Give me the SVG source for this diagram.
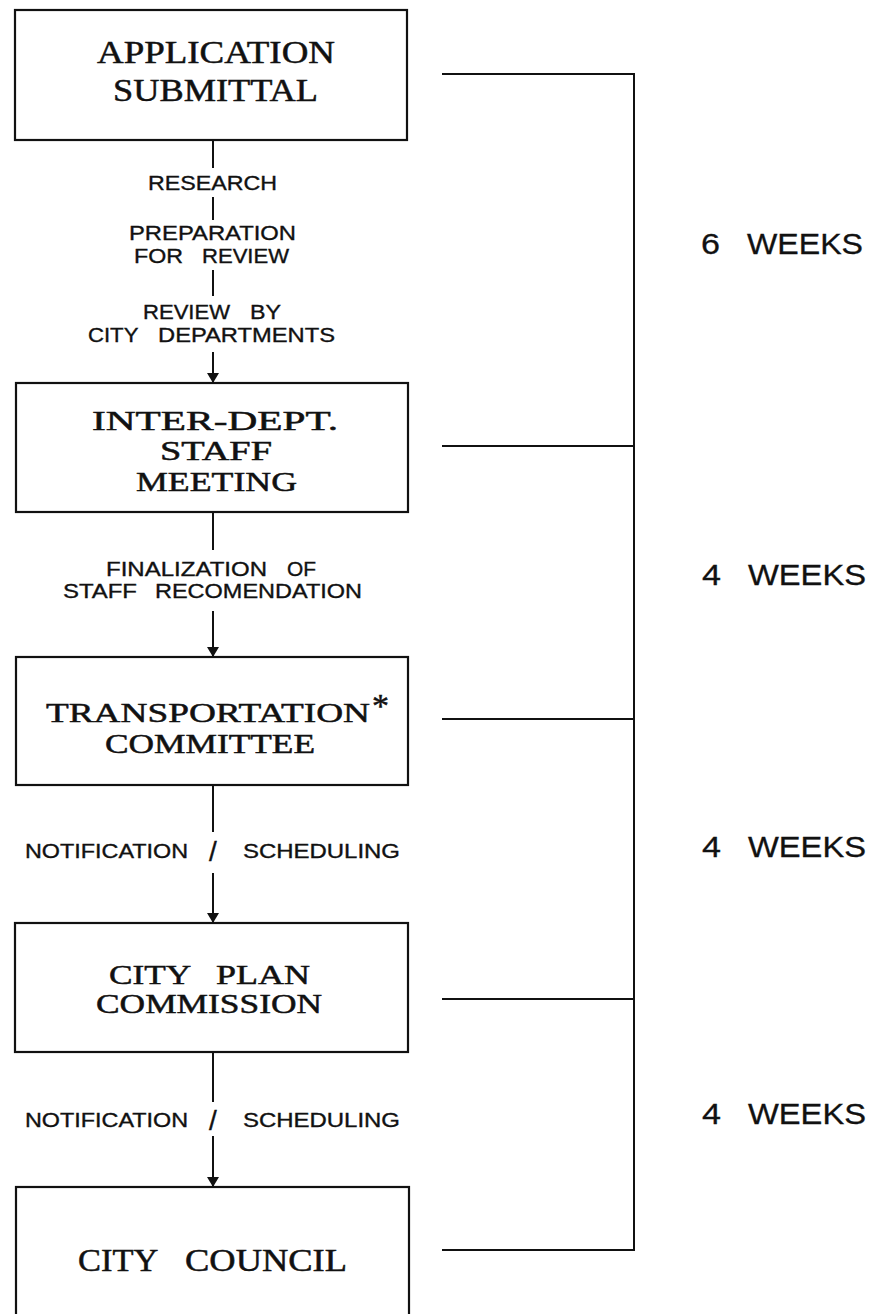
<svg xmlns="http://www.w3.org/2000/svg" width="876" height="1314" viewBox="0 0 876 1314">
<style>
.box{fill:#fff;stroke:#111;stroke-width:2.2}
.t{font-family:"Liberation Serif","Times New Roman",serif;font-size:31px;fill:#111;stroke:#111;stroke-width:0.5}
.t2{font-size:28px}
.s{font-family:"Liberation Sans",Arial,sans-serif;font-size:20px;fill:#111;stroke:#111;stroke-width:0.35}
.w{font-family:"Liberation Sans",Arial,sans-serif;font-size:29px;fill:#111;stroke:#111;stroke-width:0.3}
.ln{stroke:#111;stroke-width:2;fill:none}
</style>
<defs>
<marker id="ah" viewBox="0 0 10 12" refX="10" refY="6" markerWidth="10" markerHeight="12" markerUnits="userSpaceOnUse" orient="auto">
<path d="M0,0 L10,6 L0,12 z" fill="#111"/>
</marker>
</defs>
<rect width="876" height="1314" fill="#fff"/>

<g id="node-application">
<rect class="box" x="15" y="10" width="392" height="130"/>
<text class="t" x="97" y="63" textLength="238" lengthAdjust="spacingAndGlyphs">APPLICATION</text>
<text class="t" x="113" y="101" textLength="205" lengthAdjust="spacingAndGlyphs">SUBMITTAL</text>
</g>

<g id="node-interdept">
<rect class="box" x="16" y="383" width="392" height="129"/>
<text class="t t2" x="92" y="430" textLength="246" lengthAdjust="spacingAndGlyphs">INTER-DEPT.</text>
<text class="t t2" x="160" y="460" textLength="112" lengthAdjust="spacingAndGlyphs">STAFF</text>
<text class="t t2" x="136" y="491" textLength="161" lengthAdjust="spacingAndGlyphs">MEETING</text>
</g>

<g id="node-transportation">
<rect class="box" x="16" y="657" width="392" height="128"/>
<text class="t t2" x="46" y="722" textLength="324" lengthAdjust="spacingAndGlyphs">TRANSPORTATION</text>
<text class="t" x="372" y="717" style="font-size:34px">*</text>
<text class="t t2" x="105" y="753" textLength="210" lengthAdjust="spacingAndGlyphs">COMMITTEE</text>
</g>

<g id="node-cityplan">
<rect class="box" x="15" y="923" width="393" height="129"/>
<text class="t t2" y="984"><tspan x="109" textLength="81" lengthAdjust="spacingAndGlyphs">CITY</tspan> <tspan x="216" textLength="94" lengthAdjust="spacingAndGlyphs">PLAN</tspan></text>
<text class="t t2" x="96" y="1013" textLength="226" lengthAdjust="spacingAndGlyphs">COMMISSION</text>
</g>

<g id="node-citycouncil">
<rect class="box" x="16" y="1187" width="393" height="200"/>
<text class="t" y="1271"><tspan x="78" textLength="79" lengthAdjust="spacingAndGlyphs">CITY</tspan> <tspan x="185" textLength="162" lengthAdjust="spacingAndGlyphs">COUNCIL</tspan></text>
</g>

<g id="connectors">
<line class="ln" x1="213" y1="140" x2="213" y2="168"/>
<line class="ln" x1="213" y1="197" x2="213" y2="220"/>
<line class="ln" x1="213" y1="270" x2="213" y2="296"/>
<line class="ln" x1="213" y1="352" x2="213" y2="383" marker-end="url(#ah)"/>
<line class="ln" x1="213" y1="512" x2="213" y2="550"/>
<line class="ln" x1="213" y1="611" x2="213" y2="657" marker-end="url(#ah)"/>
<line class="ln" x1="213" y1="785" x2="213" y2="832"/>
<line class="ln" x1="213" y1="873" x2="213" y2="923" marker-end="url(#ah)"/>
<line class="ln" x1="213" y1="1052" x2="213" y2="1102"/>
<line class="ln" x1="213" y1="1136" x2="213" y2="1187" marker-end="url(#ah)"/>
<path class="ln" d="M442,74 H634 V1250 H442 M442,446 H634 M442,719 H634 M442,999 H634"/>
</g>

<g id="labels">
<text class="s" x="148" y="190" textLength="129" lengthAdjust="spacingAndGlyphs">RESEARCH</text>
<text class="s" x="129" y="240" textLength="167" lengthAdjust="spacingAndGlyphs">PREPARATION</text>
<text class="s" y="263"><tspan x="134" textLength="49" lengthAdjust="spacingAndGlyphs">FOR</tspan> <tspan x="202" textLength="87" lengthAdjust="spacingAndGlyphs">REVIEW</tspan></text>
<text class="s" y="319"><tspan x="143" textLength="87" lengthAdjust="spacingAndGlyphs">REVIEW</tspan> <tspan x="250" textLength="31" lengthAdjust="spacingAndGlyphs">BY</tspan></text>
<text class="s" y="342"><tspan x="88" textLength="50" lengthAdjust="spacingAndGlyphs">CITY</tspan> <tspan x="158" textLength="177" lengthAdjust="spacingAndGlyphs">DEPARTMENTS</tspan></text>
<text class="s" y="576"><tspan x="106" textLength="161" lengthAdjust="spacingAndGlyphs">FINALIZATION</tspan> <tspan x="287" textLength="29" lengthAdjust="spacingAndGlyphs">OF</tspan></text>
<text class="s" y="598"><tspan x="63" textLength="74" lengthAdjust="spacingAndGlyphs">STAFF</tspan> <tspan x="155" textLength="207" lengthAdjust="spacingAndGlyphs">RECOMENDATION</tspan></text>
<text class="s" y="858"><tspan x="25" textLength="163" lengthAdjust="spacingAndGlyphs">NOTIFICATION</tspan> <tspan x="209" y="861" style="font-size:28px">/</tspan> <tspan x="243" y="858" textLength="157" lengthAdjust="spacingAndGlyphs">SCHEDULING</tspan></text>
<text class="s" y="1127"><tspan x="25" textLength="163" lengthAdjust="spacingAndGlyphs">NOTIFICATION</tspan> <tspan x="209" y="1130" style="font-size:28px">/</tspan> <tspan x="243" y="1127" textLength="157" lengthAdjust="spacingAndGlyphs">SCHEDULING</tspan></text>
<text class="w" y="254"><tspan x="701" textLength="19" lengthAdjust="spacingAndGlyphs">6</tspan> <tspan x="747" textLength="116" lengthAdjust="spacingAndGlyphs">WEEKS</tspan></text>
<text class="w" y="585"><tspan x="702" textLength="19" lengthAdjust="spacingAndGlyphs">4</tspan> <tspan x="748" textLength="118" lengthAdjust="spacingAndGlyphs">WEEKS</tspan></text>
<text class="w" y="857"><tspan x="702" textLength="19" lengthAdjust="spacingAndGlyphs">4</tspan> <tspan x="748" textLength="118" lengthAdjust="spacingAndGlyphs">WEEKS</tspan></text>
<text class="w" y="1124"><tspan x="702" textLength="19" lengthAdjust="spacingAndGlyphs">4</tspan> <tspan x="748" textLength="118" lengthAdjust="spacingAndGlyphs">WEEKS</tspan></text>
</g>
</svg>
